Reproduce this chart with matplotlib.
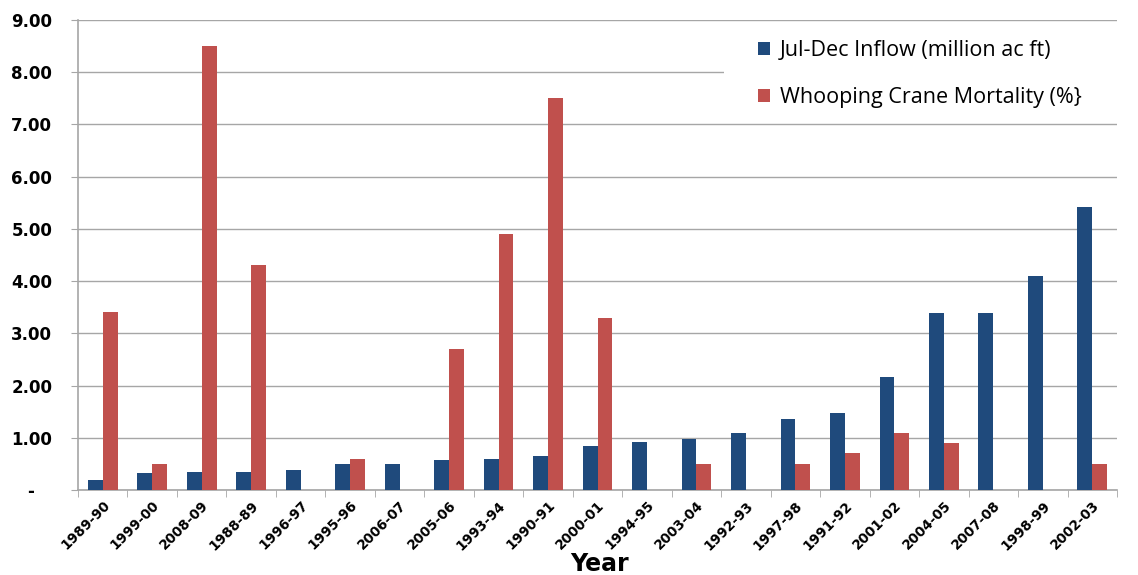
import matplotlib
matplotlib.use("Agg")
import matplotlib.pyplot as plt
from matplotlib.patches import Rectangle
import numpy as np

years = ["1989-90", "1999-00", "2008-09", "1988-89", "1996-97", "1995-96", "2006-07",
         "2005-06", "1993-94", "1990-91", "2000-01", "1994-95", "2003-04", "1992-93",
         "1997-98", "1991-92", "2001-02", "2004-05", "2007-08", "1998-99", "2002-03"]
inflow = [0.20, 0.32, 0.34, 0.35, 0.39, 0.49, 0.50, 0.57, 0.60, 0.66, 0.85, 0.91,
          0.98, 1.10, 1.36, 1.47, 2.16, 3.38, 3.39, 4.09, 5.42]
mortality = [3.4, 0.5, 8.5, 4.3, 0.0, 0.6, 0.0, 2.7, 4.9, 7.5, 3.3, 0.0,
             0.5, 0.0, 0.5, 0.7, 1.1, 0.9, 0.0, 0.0, 0.5]
yticks = [0, 1, 2, 3, 4, 5, 6, 7, 8, 9]
ytick_labels = ["-   ", "1.00", "2.00", "3.00", "4.00", "5.00", "6.00", "7.00", "8.00", "9.00"]
series_names = ["Jul-Dec Inflow (million ac ft)", "Whooping Crane Mortality (%}"]

blue = "#1F4A7C"
red = "#C0504D"
grid_c = "#A6A6A6"

fig = plt.figure(figsize=(11.38, 5.75), dpi=100)
W, H = 1138, 575
ax = fig.add_axes([78 / W, 1 - 490 / H, (1117 - 78) / W, (490 - 20) / H])

x = np.arange(len(years))
bw = 0.30
ax.bar(x - bw / 2, inflow, bw, color=blue, label=series_names[0], zorder=3)
ax.bar(x + bw / 2, mortality, bw, color=red, label=series_names[1], zorder=3)

ax.set_xlim(-0.5, len(years) - 0.5)
ax.set_ylim(0, 9)
ax.set_yticks(yticks)
ax.set_yticklabels(ytick_labels, fontsize=12, fontweight="bold", family="DejaVu Sans")
ax.yaxis.grid(True, color=grid_c, linewidth=1.0)
ax.set_axisbelow(True)

ax.set_xticks(x)
ax.set_xticklabels(years, rotation=45, ha="right", rotation_mode="anchor",
                   fontsize=9.8, fontweight="bold", family="DejaVu Sans")
ax.set_xticks(np.arange(-0.5, len(years)), minor=True)
ax.tick_params(axis="x", which="major", length=0, pad=6)
ax.tick_params(axis="x", which="minor", length=5, color=grid_c, direction="out")
ax.tick_params(axis="y", length=5, color=grid_c, pad=13.5)

for s in ["top", "right"]:
    ax.spines[s].set_visible(False)
for s in ["left", "bottom"]:
    ax.spines[s].set_color(grid_c)
    ax.spines[s].set_linewidth(1.2)

fig.text(600 / W, 1 - 564 / H, "Year", ha="center", va="center",
         fontsize=17, fontweight="bold", family="DejaVu Sans")

# white legend area masking gridline
ax.add_patch(Rectangle((724 / W, 1 - 118 / H), (1117 - 724) / W, (118 - 28) / H,
                       transform=fig.transFigure, facecolor="white", edgecolor="none",
                       zorder=1))

leg = ax.legend(loc="upper left", bbox_to_anchor=(758 / W, 1 - 40 / H),
                bbox_transform=fig.transFigure, frameon=False,
                prop={"family": "Open Sans", "size": 15.5}, handlelength=0.55,
                handleheight=0.55, handletextpad=0.45, labelspacing=1.2,
                borderpad=0, borderaxespad=0)
leg.set_zorder(5)

fig.savefig("out.png", dpi=100)
